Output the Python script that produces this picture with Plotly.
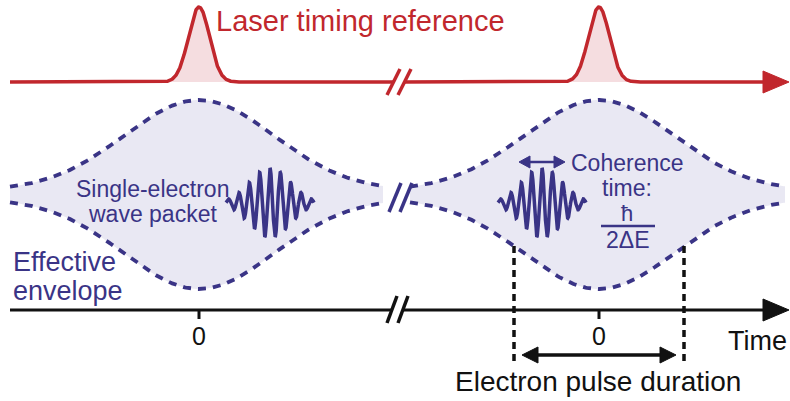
import numpy as np
import plotly.graph_objects as go

# ---------------- schematic values (chart units = pixels of the drawing) -------------
pulse_centers = [199, 599]          # time zero of the two laser / electron pulses
segments = [(10, 383), (410, 785)]  # extent of each effective-envelope segment
laser_baseline = 82
laser_peak = 75
laser_sigma = 10.5
env_center = 194.5
env_min_half = 4.0
env_amp = 90.5
env_sigma = 75.0
packet_centers = [270, 542]
packet_y = 203
packet_amp = 35
packet_sigma = 20
packet_period = 10.4
axis_y = 310
duration_edges = [514, 684]

label_laser = "Laser timing reference"
label_packet = ["Single-electron", "wave packet"]
label_env = ["Effective", "envelope"]
label_coh = ["Coherence", "time:"]
label_frac = ["ħ", "2ΔE"]
tick_labels = ["0", "0"]
label_time = "Time"
label_duration = "Electron pulse duration"

RED = "#c1272d"
RED_FILL = "#f5dde0"
BLUE = "#3a3486"
BLUE_FILL = "#e9e8f3"
BLACK = "#111111"
FONT = "Liberation Sans, Arial, sans-serif"

fig = go.Figure()


def envelope_half(x, c):
    return env_min_half + env_amp * np.exp(-((x - c) ** 2) / (2 * env_sigma ** 2))


# ---------------- effective envelopes ----------------
for (x0, x1), c in zip(segments, pulse_centers):
    xs = np.linspace(x0, x1, 300)
    h = envelope_half(xs, c)
    top = env_center - h
    bot = env_center + h
    fig.add_trace(go.Scatter(x=np.concatenate([xs, xs[::-1]]),
                             y=np.concatenate([top, bot[::-1]]),
                             fill="toself", fillcolor=BLUE_FILL, mode="none",
                             hoverinfo="skip"))
    for yy in (top, bot):
        fig.add_trace(go.Scatter(x=xs, y=yy, mode="lines",
                                 line=dict(color=BLUE, width=3.8, dash="8px,7px"),
                                 hoverinfo="skip"))

# ---------------- laser pulses ----------------
for c in pulse_centers:
    xs = np.linspace(c - 32, c + 32, 200)
    ys = laser_baseline - laser_peak * np.exp(-((xs - c) ** 2) / (2 * laser_sigma ** 2))
    fig.add_trace(go.Scatter(x=np.concatenate([xs, xs[::-1]]),
                             y=np.concatenate([ys, np.full_like(xs, laser_baseline)]),
                             fill="toself", fillcolor=RED_FILL, mode="none",
                             hoverinfo="skip"))

for (x0, x1), c in zip([(10, 393), (404, 766)], pulse_centers):
    xs = np.linspace(x0, x1, 1200)
    ys = laser_baseline - laser_peak * np.exp(-((xs - c) ** 2) / (2 * laser_sigma ** 2))
    fig.add_trace(go.Scatter(x=xs, y=ys, mode="lines",
                             line=dict(color=RED, width=3.5), hoverinfo="skip"))

# ---------------- wave packets ----------------
for c in packet_centers:
    xs = np.linspace(c - 44, c + 44, 600)
    env = packet_amp * np.exp(-((xs - c) ** 2) / (2 * packet_sigma ** 2))
    ys = packet_y - env * np.cos(2 * np.pi * (xs - c) / packet_period)
    fig.add_trace(go.Scatter(x=xs, y=ys, mode="lines",
                             line=dict(color=BLUE, width=3.5), hoverinfo="skip"))

# ---------------- time axis ----------------
fig.add_trace(go.Scatter(x=[10, 392], y=[axis_y, axis_y], mode="lines",
                         line=dict(color=BLACK, width=3.2), hoverinfo="skip"))
fig.add_trace(go.Scatter(x=[402, 766], y=[axis_y, axis_y], mode="lines",
                         line=dict(color=BLACK, width=3.2), hoverinfo="skip"))

shapes = []


def tri(pts, color):
    p = "M " + " L ".join(f"{x},{y}" for x, y in pts) + " Z"
    return dict(type="path", path=p, xref="x", yref="y", fillcolor=color,
                line=dict(color=color, width=1))


def seg(x0, y0, x1, y1, color, width, dash="solid"):
    return dict(type="line", x0=x0, y0=y0, x1=x1, y1=y1, xref="x", yref="y",
                line=dict(color=color, width=width, dash=dash))


# arrow heads on the axes
shapes.append(tri([(763, laser_baseline - 11), (789, laser_baseline), (763, laser_baseline + 11)], RED))
shapes.append(tri([(763, axis_y - 11), (789, axis_y), (763, axis_y + 11)], BLACK))

# break marks
for dx in (0, 11):
    shapes.append(seg(387 + dx, 95, 400 + dx, 69, RED, 3.5))
    shapes.append(seg(389 + dx, 212, 401 + dx, 183, BLUE, 3.5))
    shapes.append(seg(387 + dx, 323, 397 + dx, 296, BLACK, 3.5))

# ticks at zero
for c in pulse_centers:
    shapes.append(seg(c, axis_y, c, axis_y + 9, BLACK, 3))

# pulse-duration dashed markers
for xe in duration_edges:
    y0 = env_center + envelope_half(xe, pulse_centers[1])
    shapes.append(seg(xe, y0, xe, 366, BLACK, 3.5, "7px,5px"))

# pulse-duration double arrow
shapes.append(seg(536, 355, 662, 355, BLACK, 3.5))
shapes.append(tri([(538, 347), (522, 355), (538, 363)], BLACK))
shapes.append(tri([(660, 347), (676, 355), (660, 363)], BLACK))

# coherence time double arrow
shapes.append(seg(528, 162, 556, 162, BLUE, 2.5))
shapes.append(tri([(530, 156), (519, 162), (530, 168)], BLUE))
shapes.append(tri([(554, 156), (565, 162), (554, 168)], BLUE))

# fraction bar
shapes.append(seg(601, 226, 655, 226, BLUE, 2.5))

ann = []


def text(x, y, s, size, color, xanchor="center"):
    ann.append(dict(x=x, y=y, xref="x", yref="y", text=s, showarrow=False,
                    xanchor=xanchor, yanchor="middle",
                    font=dict(family=FONT, size=size, color=color)))


text(360, 21, label_laser, 29, RED)
text(152, 189, label_packet[0], 23, BLUE)
text(152, 214, label_packet[1], 23, BLUE)
text(11, 262, label_env[0], 27, BLUE, "left")
text(11, 291, label_env[1], 27, BLUE, "left")
text(627, 163, label_coh[0], 23, BLUE)
text(627, 188, label_coh[1], 23, BLUE)
text(627, 213, label_frac[0], 22, BLUE)
text(628, 240, label_frac[1], 23, BLUE)
for c, t in zip(pulse_centers, tick_labels):
    text(c, 336, t, 25, BLACK)
text(757, 341, label_time, 27, BLACK)
text(598, 381, label_duration, 28, BLACK)

fig.update_layout(
    width=790, height=401, autosize=False,
    margin=dict(l=0, r=0, t=0, b=0, pad=0),
    paper_bgcolor="white", plot_bgcolor="white",
    showlegend=False,
    xaxis=dict(range=[0, 790], visible=False, fixedrange=True),
    yaxis=dict(range=[401, 0], visible=False, fixedrange=True),
    shapes=shapes, annotations=ann,
)

fig.write_html("out.html", config={"displayModeBar": False})
